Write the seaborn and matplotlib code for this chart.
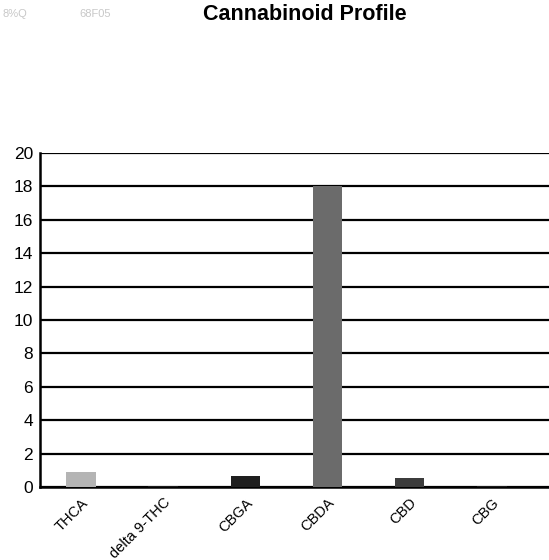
import pandas as pd
import seaborn as sns
import matplotlib.pyplot as plt

# values (percent)
cannabinoids = ['THCA', 'delta 9-THC', 'CBGA', 'CBDA', 'CBD', 'CBG']
percent = [0.9, 0.05, 0.65, 18.0, 0.55, 0.08]
bar_colors = ['#b4b4b4', '#1a1a1a', '#1e1e1e', '#6b6b6b', '#3c3c3c', '#1a1a1a']
y_ticks = [0, 2, 4, 6, 8, 10, 12, 14, 16, 18, 20]

df = pd.DataFrame({'cannabinoid': cannabinoids, 'percent': percent})

sns.set_style('white')
plt.rcParams['font.family'] = ['Liberation Sans', 'DejaVu Sans']

fig = plt.figure(figsize=(5.49, 5.6), dpi=100)
ax = fig.add_axes([0.073, 0.13, 0.95, 0.597])

sns.barplot(data=df, x='cannabinoid', y='percent', hue='cannabinoid',
            palette=bar_colors, width=0.36, legend=False, ax=ax,
            linewidth=0, edgecolor='none', zorder=3)

ax.set_ylim(0, 20)
ax.set_yticks(y_ticks)
ax.set_xlim(-0.5, 5.85)
ax.yaxis.grid(True, color='black', linewidth=1.6, zorder=0)
ax.set_axisbelow(True)
for s in ['left', 'bottom']:
    ax.spines[s].set_color('black')
    ax.spines[s].set_linewidth(1.8)
ax.spines['top'].set_visible(False)
ax.spines['right'].set_visible(False)
ax.tick_params(axis='both', length=0, colors='black')
ax.tick_params(axis='y', labelsize=12.5, pad=5)
ax.tick_params(axis='x', pad=6)
ax.set_xticks(range(len(cannabinoids)))
ax.set_xticklabels(cannabinoids, rotation=45, ha='right', rotation_mode='anchor', fontsize=10.5)
ax.set_xlabel('')
ax.set_ylabel('')

fig.text(0.555, 0.974, 'Cannabinoid Profile', ha='center', va='center',
         fontsize=15.5, fontweight='bold', color='black')
# faint bleed-through text from the scan
fig.text(0.005, 0.975, '8%Q', ha='left', va='center', fontsize=8, color='#c8c8c8')
fig.text(0.145, 0.975, '68F05', ha='left', va='center', fontsize=8, color='#c8c8c8')

plt.savefig('out.png', dpi=100)
